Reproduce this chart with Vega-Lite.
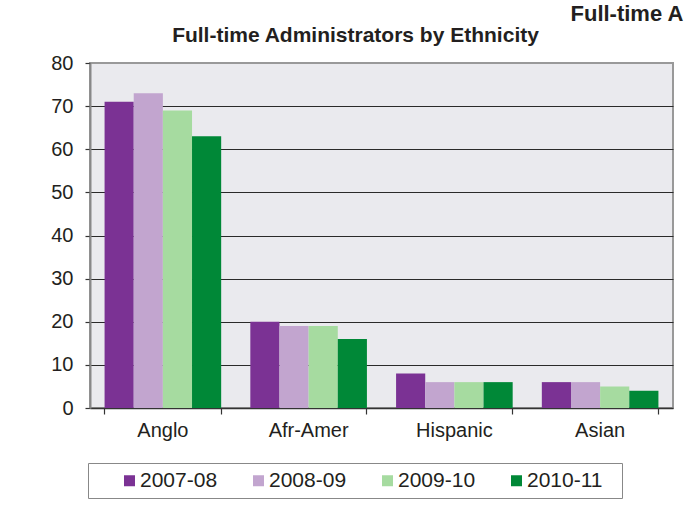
{
  "$schema": "https://vega.github.io/schema/vega-lite/v6.json",
  "width": 583,
  "height": 345,
  "autosize": {"type": "none"},
  "padding": {"left": 90, "top": 63, "right": 22, "bottom": 112},
  "background": "white",
  "title": {
    "text": "Full-time Administrators by Ethnicity",
    "font": "Liberation Sans",
    "fontSize": 21,
    "fontWeight": "bold",
    "color": "#231f20",
    "anchor": "middle",
    "dx": -26,
    "dy": 61,
    "baseline": "alphabetic",
    "offset": 0
  },
  "data": {
    "values": [
      {"eth": "Anglo", "year": "2007-08", "v": 71},
      {"eth": "Anglo", "year": "2008-09", "v": 73},
      {"eth": "Anglo", "year": "2009-10", "v": 69},
      {"eth": "Anglo", "year": "2010-11", "v": 63},
      {"eth": "Afr-Amer", "year": "2007-08", "v": 20},
      {"eth": "Afr-Amer", "year": "2008-09", "v": 19},
      {"eth": "Afr-Amer", "year": "2009-10", "v": 19},
      {"eth": "Afr-Amer", "year": "2010-11", "v": 16},
      {"eth": "Hispanic", "year": "2007-08", "v": 8},
      {"eth": "Hispanic", "year": "2008-09", "v": 6},
      {"eth": "Hispanic", "year": "2009-10", "v": 6},
      {"eth": "Hispanic", "year": "2010-11", "v": 6},
      {"eth": "Asian", "year": "2007-08", "v": 6},
      {"eth": "Asian", "year": "2008-09", "v": 6},
      {"eth": "Asian", "year": "2009-10", "v": 5},
      {"eth": "Asian", "year": "2010-11", "v": 4}
    ]
  },
  "mark": {"type": "bar"},
  "encoding": {
    "x": {
      "field": "eth",
      "type": "nominal",
      "sort": ["Anglo", "Afr-Amer", "Hispanic", "Asian"],
      "scale": {"paddingInner": 0.2, "paddingOuter": 0.1},
      "axis": {
        "title": null,
        "labelAngle": 0,
        "labelFont": "Liberation Sans",
        "labelFontSize": 20,
        "labelColor": "#231f20",
        "labelPadding": 6,
        "domainColor": "#333",
        "domainWidth": 1.5,
        "tickColor": "#333",
        "tickSize": 6,
        "tickWidth": 1.2,
        "bandPosition": 1,
        "tickExtra": true,
        "grid": false
      }
    },
    "xOffset": {
      "field": "year",
      "type": "nominal",
      "sort": ["2007-08", "2008-09", "2009-10", "2010-11"],
      "scale": {"paddingInner": 0, "paddingOuter": 0}
    },
    "y": {
      "field": "v",
      "type": "quantitative",
      "scale": {"domain": [0, 80], "nice": false},
      "axis": {
        "title": "Full-time A",
        "titleX": 480,
        "titleY": -43,
        "titleAngle": 0,
        "titleAlign": "left",
        "titleBaseline": "alphabetic",
        "titleFont": "Liberation Sans",
        "titleFontSize": 22,
        "titleFontWeight": "bold",
        "titleColor": "#231f20",
        "titleLimit": 400,
        "values": [0, 10, 20, 30, 40, 50, 60, 70, 80],
        "labelFont": "Liberation Sans",
        "labelFontSize": 20,
        "labelColor": "#231f20",
        "labelPadding": 12,
        "domainColor": "#888",
        "domainWidth": 2,
        "tickColor": "#333",
        "tickSize": 5,
        "tickWidth": 1.2,
        "grid": true,
        "gridColor": {"condition": {"test": "datum.value == 80 || datum.value == 0", "value": "#999"}, "value": "#2a2a2a"},
        "gridWidth": 1.2,
        "gridOpacity": 1
      }
    },
    "color": {
      "field": "year",
      "type": "nominal",
      "sort": ["2007-08", "2008-09", "2009-10", "2010-11"],
      "scale": {"range": ["#7b3294", "#c2a5cf", "#a6dba0", "#008837"]},
      "legend": {
        "orient": "none",
        "legendX": -2,
        "legendY": 400,
        "direction": "horizontal",
        "columns": 4,
        "title": "\u00a0",
        "titleOrient": "right",
        "titleFontSize": 21,
        "titlePadding": 12,
        "strokeColor": "#888",
        "padding": 7,
        "symbolType": "square",
        "symbolSize": 121,
        "symbolStrokeWidth": 0,
        "symbolOffset": 24,
        "labelFont": "Liberation Sans",
        "labelFontSize": 21,
        "labelColor": "#231f20",
        "labelOffset": 0,
        "columnPadding": 6
      }
    }
  },
  "config": {
    "view": {"fill": "#eaeaee", "stroke": "#999", "strokeWidth": 2},
    "bar": {"stroke": null}
  }
}
